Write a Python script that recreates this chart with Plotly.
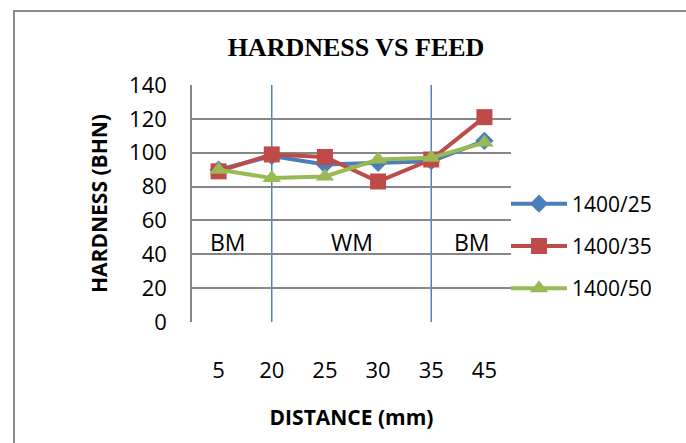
import plotly.graph_objects as go

distance = ["5", "20", "25", "30", "35", "45"]
s25 = [90, 98, 93, 94, 95, 107]
s35 = [89, 99, 97.5, 83, 96, 121]
s50 = [90, 85, 86, 96, 97, 106]
series_names = ["1400/25", "1400/35", "1400/50"]
zone_labels = ["BM", "WM", "BM"]
zone_x = [0.17, 2.5, 4.77]
zone_y = 47
zone_lines = [1, 4]

font = "Open Sans, Liberation Sans, sans-serif"
L, R, T, B = 192, 511, 85, 322
PW, PH = R - L, B - T

fig = go.Figure()
fig.add_trace(go.Scatter(x=distance, y=s25, name=series_names[0], mode="lines+markers", legendgroup="a",
                         line=dict(color="#4A7EBB", width=4),
                         marker=dict(symbol="diamond", size=14, color="#4A7EBB")))
fig.add_trace(go.Scatter(x=distance, y=s35, name=series_names[1], mode="lines+markers", legendgroup="b",
                         line=dict(color="#BE4B48", width=4),
                         marker=dict(symbol="square", size=16, color="#BE4B48")))
fig.add_trace(go.Scatter(x=distance, y=s50, name=series_names[2], mode="lines+markers", legendgroup="c",
                         line=dict(color="#98B954", width=4),
                         marker=dict(symbol="triangle-up", size=16, color="#98B954")))

shapes = []
for xi in zone_lines:
    shapes.append(dict(type="line", xref="x", yref="y", x0=xi, x1=xi, y0=0, y1=140,
                       line=dict(color="#4F81BD", width=1.5), layer="below"))
shapes.append(dict(type="rect", xref="paper", yref="paper",
                   x0=(14 - L) / PW, x1=(720 - L) / PW,
                   y0=-(470 - B) / PH, y1=1 + (T - 11) / PH,
                   line=dict(color="#8C8C8C", width=2)))
for lab, xx in zip(zone_labels, zone_x):
    fig.add_annotation(x=xx, y=zone_y, xref="x", yref="y", text=lab, showarrow=False,
                       font=dict(family=font, size=23, color="black"))

fig.update_layout(
    width=686, height=443,
    margin=dict(l=L, r=686 - R, t=T, b=443 - B),
    paper_bgcolor="white", plot_bgcolor="white",
    shapes=shapes,
    title=dict(text="<b>HARDNESS VS FEED</b>", x=356 / 686, xanchor="center", y=1 - 47 / 443, yanchor="middle",
               font=dict(family="Liberation Serif, Times New Roman, serif", size=26, color="black")),
    xaxis=dict(type="category", categoryorder="array", categoryarray=distance,
               range=[-0.5, 5.5], showgrid=False, showline=False, ticks="", ticklabelstandoff=33,
               tickfont=dict(family=font, size=22, color="black"),
               title=dict(text="<b>DISTANCE (mm)</b>", font=dict(family=font, size=21, color="black"), standoff=27)),
    yaxis=dict(range=[0, 140], dtick=20, showgrid=True, gridcolor="#868686", gridwidth=1.5,
               showline=True, linecolor="#868686", linewidth=1.5, zeroline=False, ticks="", ticklabelstandoff=19,
               tickfont=dict(family=font, size=22, color="black"),
               title=dict(text="<b>HARDNESS (BHN)</b>", font=dict(family=font, size=21, color="black"), standoff=16)),
    legend=dict(x=(506 - L) / PW, xanchor="left", y=(B - 246) / PH, yanchor="middle", tracegroupgap=12,
                font=dict(family=font, size=21, color="black"), itemwidth=56,
                bgcolor="rgba(0,0,0,0)"),
)
fig.write_html("out.html", post_script="document.body.style.margin='0';",
               config={"displayModeBar": False})
